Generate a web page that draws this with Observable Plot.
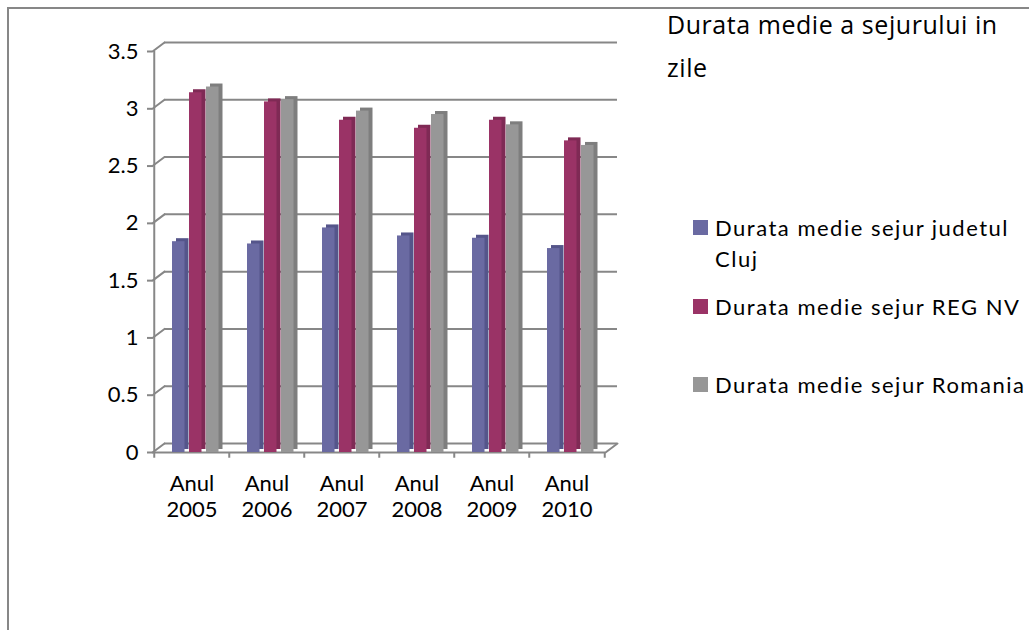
<!DOCTYPE html>
<html>
<head>
<meta charset="utf-8">
<script src="https://cdn.jsdelivr.net/npm/d3@7"></script>
<script src="https://cdn.jsdelivr.net/npm/@observablehq/plot@0.6"></script>
<style>
  body { margin: 0; background: #fff; font-family: Lato, "Open Sans", sans-serif; }
  #wrap { position: relative; width: 1029px; height: 630px; overflow: hidden; background: #fff; }
  #border { position: absolute; left: 7px; top: 7px; width: 1100px; height: 700px; border: 2px solid #878787; }
  #chart { position: absolute; left: 0; top: 0; }
  #title { position: absolute; left: 667px; top: 3px; font-family: "Open Sans", Lato, sans-serif; font-size: 25px; letter-spacing: 0.55px; line-height: 43px; color: #000; white-space: nowrap; }
  .lg-sw { position: absolute; left: 693px; width: 15px; height: 15px; }
  .lg-tx { position: absolute; left: 715px; font-size: 22px; line-height: 31px; letter-spacing: 1.5px; color: #000; white-space: nowrap; }
</style>
</head>
<body>
<div id="wrap">
  <div id="border"></div>
  <div id="chart"></div>
  <div id="title"></div>
  <div id="legend"></div>
</div>
<script>
// ---- data ----
const years = ["2005", "2006", "2007", "2008", "2009", "2010"];
const seriesNames = ["Durata medie sejur judetul Cluj", "Durata medie sejur REG NV", "Durata medie sejur Romania"];
const cluj = [1.84, 1.82, 1.96, 1.89, 1.87, 1.78];
const regNV = [3.14, 3.06, 2.90, 2.83, 2.90, 2.72];
const romania = [3.19, 3.08, 2.98, 2.95, 2.86, 2.68];
const yTicks = [0, 0.5, 1, 1.5, 2, 2.5, 3, 3.5];
const titleLines = ["Durata medie a sejurului in", "zile"];
const legendLines = [["Durata medie sejur judetul", "Cluj"], ["Durata medie sejur REG NV"], ["Durata medie sejur Romania"]];

// ---- styles ----
const faceColors = ["#6a6aa2", "#9a3366", "#979797"];
const sideColors = ["#55558a", "#7f2a55", "#7e7e7e"];
const gridColor = "#878787";

const W = 1029, H = 630;
const mL = 152, mR = 424, mT = 51, mB = 178;
const bw = (W - mL - mR) / years.length;
const slotStart = 18, slotW = 17, faceW = 13, depthX = 4, depthY = -3;
const wallDX = 12, wallDY = -9;

const allSeries = [cluj, regNV, romania];
const table = allSeries.map((vals, i) => years.map((y, j) => ({year: y, value: vals[j], series: seriesNames[i], idx: i})));

const barMarks = [];
table.forEach((rows, i) => {
  const insetLeft = slotStart + slotW * i;
  const insetRight = bw - (slotStart + slotW * i + faceW);
  barMarks.push(Plot.barY(rows, {x: "year", y: "value", fill: sideColors[i], insetLeft, insetRight, dx: depthX, dy: depthY}));
  barMarks.push(Plot.barY(rows, {x: "year", y: "value", fill: faceColors[i], insetLeft, insetRight}));
});

const wallAngle = Math.atan2(wallDX, -wallDY) * 180 / Math.PI;
const wallLen = Math.hypot(wallDX, wallDY);

const chart = Plot.plot({
  width: W,
  height: H,
  marginLeft: mL,
  marginRight: mR,
  marginTop: mT,
  marginBottom: mB,
  x: {domain: years, padding: 0, label: null},
  y: {domain: [0, 3.5], label: null},
  style: {fontFamily: "Lato, sans-serif", fontSize: "22px", background: "transparent", color: "#000"},
  marks: [
    // back wall gridlines
    Plot.ruleY(yTicks, {stroke: gridColor, strokeWidth: 2, dx: wallDX, dy: wallDY}),
    // diagonal connectors on left side
    Plot.vector(yTicks, {y: d => d, frameAnchor: "left", anchor: "start", length: wallLen, rotate: wallAngle, shape: "spike", r: 0, stroke: gridColor, strokeWidth: 2, fill: "none"}),
    // floor diagonal on right side
    Plot.vector([0], {y: d => d, frameAnchor: "right", anchor: "start", length: wallLen, rotate: wallAngle, shape: "spike", r: 0, stroke: gridColor, strokeWidth: 2, fill: "none"}),
    // front floor edge
    Plot.ruleY([0], {stroke: gridColor, strokeWidth: 2}),
    // front vertical axis line
    Plot.ruleX([years[0]], {dx: -bw / 2, stroke: gridColor, strokeWidth: 2}),
    // category boundary ticks
    Plot.ruleX(years, {x: d => d, dx: -bw / 2, y1: 0, y2: -0.05, stroke: gridColor, strokeWidth: 2}),
    Plot.ruleX([years[years.length - 1]], {dx: bw / 2, y1: 0, y2: -0.05, stroke: gridColor, strokeWidth: 2}),
    ...barMarks,
    Plot.axisY(yTicks, {tickSize: 5, tickPadding: 9, stroke: gridColor, strokeWidth: 2, tickFormat: d => String(d), fontSize: 22, label: null}),
    Plot.axisX({tickSize: 0, tickPadding: 20, tickFormat: d => `Anul\n${d}`, lineHeight: 1.18, fontSize: 22, label: null})
  ]
});
document.getElementById("chart").appendChild(chart);

// ---- title ----
document.getElementById("title").innerHTML = titleLines.join("<br>");

// ---- legend ----
const legend = document.getElementById("legend");
const itemTops = [212, 291, 369];
legendLines.forEach((lines, i) => {
  const sw = document.createElement("div");
  sw.className = "lg-sw";
  sw.style.top = (itemTops[i] + 8) + "px";
  sw.style.background = faceColors[i];
  legend.appendChild(sw);
  const tx = document.createElement("div");
  tx.className = "lg-tx";
  tx.style.top = itemTops[i] + "px";
  tx.innerHTML = lines.join("<br>");
  legend.appendChild(tx);
});
</script>
</body>
</html>
